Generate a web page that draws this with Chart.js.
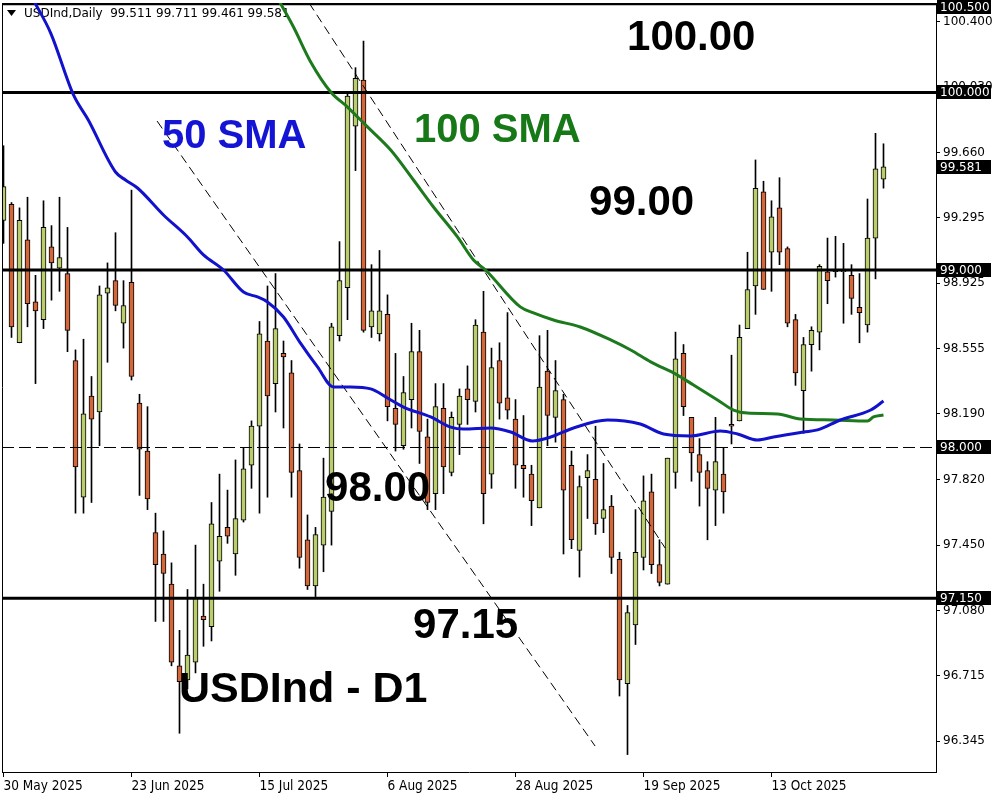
<!DOCTYPE html>
<html><head><meta charset="utf-8">
<script src="https://cdn.jsdelivr.net/npm/chart.js@4.4.1/dist/chart.umd.min.js"></script>
<style>html,body{margin:0;padding:0;background:#fff;}canvas{display:block;}</style>
</head><body>
<canvas id="c" width="1000" height="800"></canvas>
<script>
// ---- Data ----
const openP  = [99.28,99.37,98.59,99.17,98.82,98.72,99.13,99.01,98.98,98.49,97.72,98.29,98.20,98.87,98.94,98.70,98.93,98.25,97.98,97.52,
97.40,97.23,96.77,96.69,96.79,97.05,96.99,97.36,97.55,97.40,97.59,97.90,98.12,98.60,98.36,98.53,98.42,97.87,97.48,97.22,
97.45,97.64,98.63,98.90,99.81,100.07,98.68,98.64,98.75,98.22,98.01,98.27,98.54,98.06,97.74,98.22,97.86,98.13,98.33,98.26,
98.65,97.85,98.49,98.28,98.16,97.90,97.85,97.66,98.43,98.17,98.27,97.90,97.42,97.83,97.82,97.60,97.67,97.37,96.67,97.00,
97.38,97.75,97.34,97.23,97.86,98.53,98.17,97.96,97.87,97.76,97.85,98.13,98.15,98.67,98.91,99.44,99.10,99.35,99.12,98.72,
98.32,98.58,98.65,98.99,99.00,98.99,98.97,98.79,98.69,99.18,99.511];
const highP  = [99.70,99.38,99.35,99.41,98.97,99.39,99.25,99.41,99.24,98.55,98.61,98.40,98.91,99.04,99.21,98.94,99.45,98.30,98.23,97.63,
97.53,97.35,96.97,97.20,97.45,97.23,97.69,97.85,97.76,97.93,98.00,98.15,98.71,98.91,98.98,98.60,98.49,98.02,97.62,97.55,
97.94,98.70,99.16,99.99,100.14,100.29,99.03,99.11,98.86,98.53,98.40,98.70,98.66,98.16,98.36,98.36,98.20,98.33,98.46,98.72,
98.88,98.56,98.59,98.76,98.27,98.18,97.90,98.63,98.66,98.49,98.30,97.98,97.84,97.96,98.12,97.91,97.73,97.41,97.11,97.65,
97.84,97.85,97.48,97.94,98.65,98.58,98.17,98.05,97.92,98.17,98.00,98.52,98.69,99.10,99.62,99.50,99.39,99.52,99.13,98.75,
98.62,98.68,99.03,99.18,99.19,99.15,99.03,98.98,99.40,99.77,99.711];
const lowP   = [99.15,98.62,98.59,98.68,98.36,98.67,98.83,98.88,98.54,97.63,97.63,97.69,98.01,98.48,98.77,98.56,98.38,97.73,97.65,97.02,
97.02,96.77,96.39,96.64,96.73,96.88,96.91,97.19,97.46,97.28,97.58,97.77,97.63,97.72,98.20,98.11,97.72,97.32,97.20,97.16,
97.30,97.45,98.60,98.72,99.56,98.65,98.62,98.60,98.15,97.98,97.99,98.11,97.91,97.65,97.65,97.74,97.84,97.96,98.13,98.20,
97.57,97.77,98.16,98.16,97.77,97.72,97.56,97.66,98.01,98.03,97.40,97.43,97.27,97.60,97.51,97.52,97.29,96.60,96.27,96.89,
97.31,97.29,97.22,97.23,97.77,98.18,97.81,97.67,97.48,97.56,97.63,98.02,98.15,98.67,98.75,98.89,98.88,99.03,98.68,98.35,
98.08,98.43,98.55,98.81,98.96,98.70,98.75,98.59,98.65,98.95,99.461];
const closeP = [99.47,98.68,99.28,98.81,98.77,99.24,99.04,99.07,98.66,97.89,98.19,98.16,98.86,98.90,98.80,98.80,98.40,97.99,97.71,97.34,
97.29,96.79,96.68,96.83,97.15,97.03,97.57,97.50,97.50,97.60,97.88,98.12,98.64,98.29,98.67,98.51,97.86,97.38,97.22,97.51,
97.72,98.68,98.94,99.98,100.08,98.66,98.77,98.77,98.23,98.13,98.31,98.54,98.09,97.69,98.23,97.89,98.17,98.29,98.27,98.69,
97.74,98.45,98.25,98.21,97.90,97.88,97.70,98.34,98.18,98.32,97.76,97.48,97.78,97.87,97.57,97.65,97.38,96.69,97.07,97.41,
97.70,97.34,97.24,97.94,98.50,98.23,97.97,97.86,97.77,97.92,97.75,98.12,98.62,98.89,99.46,98.89,99.30,99.10,98.70,98.42,
98.58,98.66,99.02,98.94,98.99,98.99,98.84,98.76,99.18,99.57,99.581];

const sma50Idx = [3.75,5.9,8.75,10.6,14,15.25,16.75,20,23,25,27.5,30,31.75,33,35,37.1,39.25,41.25,43.4,45.9,48,50,53.4,55.9,57.5,60.9,63.4,66.1,68.4,71.25,75.5,79.6,82.5,85.9,89.6,91.75,94.25,96.25,100,101.75,104.6,108.4,110];
const sma50Val = [100.52,100.335,99.986,99.845,99.552,99.507,99.462,99.31,99.186,99.085,99.0,98.876,98.848,98.82,98.735,98.589,98.454,98.341,98.341,98.33,98.279,98.228,98.172,98.115,98.104,98.11,98.087,98.037,98.059,98.11,98.155,98.132,98.076,98.065,98.093,98.076,98.042,98.059,98.087,98.099,98.155,98.211,98.262];
const sma100Idx = [34.4,36.25,38.4,40.9,43,45.5,48.4,51.25,53.75,56.75,58.75,60.25,64.6,66.25,68.75,72.1,75.9,78.4,80.9,84.25,86.25,89.25,91.25,93,96.75,99.6,103.75,108,108.75,110];
const sma100Val = [100.52,100.369,100.172,100.003,99.918,99.806,99.676,99.507,99.355,99.186,99.056,99.0,98.792,98.758,98.718,98.679,98.606,98.549,98.482,98.408,98.352,98.268,98.211,98.194,98.189,98.161,98.155,98.149,98.172,98.183];

const trendAIdx = [19.2, 73.95];
const trendAVal = [99.839, 96.318];
const trendBIdx = [38.2, 82.7];
const trendBVal = [100.504, 97.434];

const solidLevels = [100.5, 100.0, 99.0, 97.15];
const dashedLevels = [98.0];
const priceTags = [100.5, 100.0, 99.581, 99.0, 98.0, 97.15];

const yTickValues = [100.400,100.030,99.660,99.295,98.925,98.555,98.190,97.820,97.450,97.080,96.715,96.345];
const dateTickIdx = [0,16,32,48,64,80,96];
const dateTickLabels = ['30 May 2025','23 Jun 2025','15 Jul 2025','6 Aug 2025','28 Aug 2025','19 Sep 2025','13 Oct 2025'];

const headerText = 'USDInd,Daily  99.511 99.711 99.461 99.581';

const notes = [
  {text:'100.00', idx:77.94, val:100.239, color:'#000', size:42},
  {text:'50 SMA', idx:19.81, val:99.687, color:'#1414d4', size:40},
  {text:'100 SMA', idx:51.31, val:99.721, color:'#177817', size:40},
  {text:'99.00', idx:73.19, val:99.310, color:'#000', size:42},
  {text:'98.00', idx:40.19, val:97.699, color:'#000', size:42},
  {text:'97.15', idx:51.19, val:96.927, color:'#000', size:42},
  {text:'USDInd - D1', idx:21.94, val:96.566, color:'#000', size:43}
];

// ---- Layout constants ----
const X_MIN = -0.1875, X_MAX = 116.5625;
const Y_MIN = 96.1718, Y_MAX = 100.5042;
const BULL = '#bacd6c', BEAR = '#d3673b';
const BLUE = '#1212cc', GREEN = '#1c7a1c';

const datasets = [];
datasets.push({
  type:'bar', label:'wick',
  data: highP.map((h,i)=>({x:i, y:[lowP[i], h]})),
  backgroundColor:'#000', borderWidth:0, barThickness:1, grouped:false, order:4
});
datasets.push({
  type:'bar', label:'body',
  data: openP.map((o,i)=>({x:i, y:[o, closeP[i]]})),
  backgroundColor: ctx => (closeP[ctx.dataIndex] >= openP[ctx.dataIndex] ? BULL : BEAR),
  borderColor:'#000', borderWidth:1, borderSkipped:false, barThickness:5, grouped:false, minBarLength:1, order:3
});
const noClip = {left:0, top:0, right:0, bottom:0};
solidLevels.forEach(v => datasets.push({
  type:'line', data:[{x:X_MIN,y:v},{x:X_MAX,y:v}], borderColor:'#000', borderWidth:3,
  pointRadius:0, clip:noClip, order:1
}));
dashedLevels.forEach(v => datasets.push({
  type:'line', data:[{x:X_MIN,y:v},{x:X_MAX,y:v}], borderColor:'#000', borderWidth:1, borderDash:[12,5],
  pointRadius:0, clip:noClip, order:1
}));
[[trendAIdx,trendAVal],[trendBIdx,trendBVal]].forEach(([xs,ys]) => datasets.push({
  type:'line', data: xs.map((x,k)=>({x, y:ys[k]})), borderColor:'#000', borderWidth:1, borderDash:[9,5],
  pointRadius:0, clip:noClip, order:1
}));
datasets.push({
  type:'line', data: sma50Idx.map((x,k)=>({x, y:sma50Val[k]})), borderColor:BLUE, borderWidth:3,
  pointRadius:0, cubicInterpolationMode:'monotone', clip:noClip, order:0
});
datasets.push({
  type:'line', data: sma100Idx.map((x,k)=>({x, y:sma100Val[k]})), borderColor:GREEN, borderWidth:3,
  pointRadius:0, cubicInterpolationMode:'monotone', clip:noClip, order:0
});

const decorPlugin = {
  id:'decor',
  beforeDatasetsDraw(chart){
    const ctx = chart.ctx;
    ctx.save();
    ctx.fillStyle = '#000';
    ctx.beginPath(); ctx.moveTo(7,10); ctx.lineTo(16,10); ctx.lineTo(11.5,16); ctx.closePath(); ctx.fill();
    ctx.font = '12px "DejaVu Sans"';
    ctx.textBaseline = 'middle'; ctx.textAlign = 'left';
    ctx.fillText(headerText, 24, 14);
    ctx.restore();
  },
  afterDatasetsDraw(chart){
    const ctx = chart.ctx, a = chart.chartArea;
    const xs = chart.scales.x, ys = chart.scales.y;
    ctx.save();
    ctx.textAlign = 'left'; ctx.textBaseline = 'alphabetic';
    notes.forEach(n => {
      ctx.font = 'bold ' + n.size + 'px "Liberation Sans", Arial, sans-serif';
      ctx.fillStyle = n.color;
      ctx.fillText(n.text, xs.getPixelForValue(n.idx), ys.getPixelForValue(n.val));
    });
    ctx.strokeStyle = '#000'; ctx.lineWidth = 1;
    ctx.beginPath(); ctx.moveTo(a.left+0.5, a.top); ctx.lineTo(a.left+0.5, a.bottom); ctx.stroke();
    ctx.restore();
  },
  afterDraw(chart){
    const ctx = chart.ctx, a = chart.chartArea, ys = chart.scales.y;
    ctx.save();
    ctx.font = '12px "DejaVu Sans"';
    ctx.textBaseline = 'middle'; ctx.textAlign = 'left';
    priceTags.forEach(v => {
      let y = Math.round(ys.getPixelForValue(v));
      let top = Math.max(0, y - 7);
      ctx.fillStyle = '#000';
      ctx.fillRect(a.right + 1, top, 54, 14);
      ctx.fillStyle = '#fff';
      ctx.fillText(v.toFixed(3), a.right + 4, top + 7.5);
    });
    ctx.restore();
  }
};

new Chart(document.getElementById('c'), {
  type:'bar',
  data:{ datasets },
  options:{
    responsive:false, animation:false, devicePixelRatio:1,
    layout:{ padding:{ left:2, top:3, right:0, bottom:0 } },
    plugins:{ legend:{display:false}, tooltip:{enabled:false} },
    scales:{
      x:{
        type:'linear', min:X_MIN, max:X_MAX, offset:false,
        afterBuildTicks: s => { s.ticks = dateTickIdx.map(v=>({value:v})); },
        afterFit: s => { s.height = 28; s.paddingLeft = 0; s.paddingRight = 0; },
        grid:{ display:true, drawOnChartArea:false, drawTicks:true, tickLength:5, color:'#000', offset:false },
        border:{ display:true, color:'#000', width:1 },
        ticks:{
          autoSkip:false, maxRotation:0, minRotation:0, align:'start', padding:1,
          color:'#000', font:{ family:'"Liberation Sans Narrow", "DejaVu Sans Condensed", sans-serif', size:13.5 },
          callback: v => { const k = dateTickIdx.indexOf(v); return k >= 0 ? dateTickLabels[k] : ''; }
        }
      },
      y:{
        type:'linear', position:'right', min:Y_MIN, max:Y_MAX,
        afterBuildTicks: s => { s.ticks = yTickValues.map(v=>({value:v})); },
        afterFit: s => { s.width = 64; s.paddingTop = 0; s.paddingBottom = 0; },
        grid:{ display:true, drawOnChartArea:false, drawTicks:true, tickLength:4, color:'#000' },
        border:{ display:true, color:'#000', width:1 },
        ticks:{
          autoSkip:false, padding:3, color:'#000',
          font:{ family:'"DejaVu Sans"', size:12 },
          callback: v => Number(v).toFixed(3)
        }
      }
    }
  },
  plugins:[decorPlugin]
});
</script>
</body></html>
